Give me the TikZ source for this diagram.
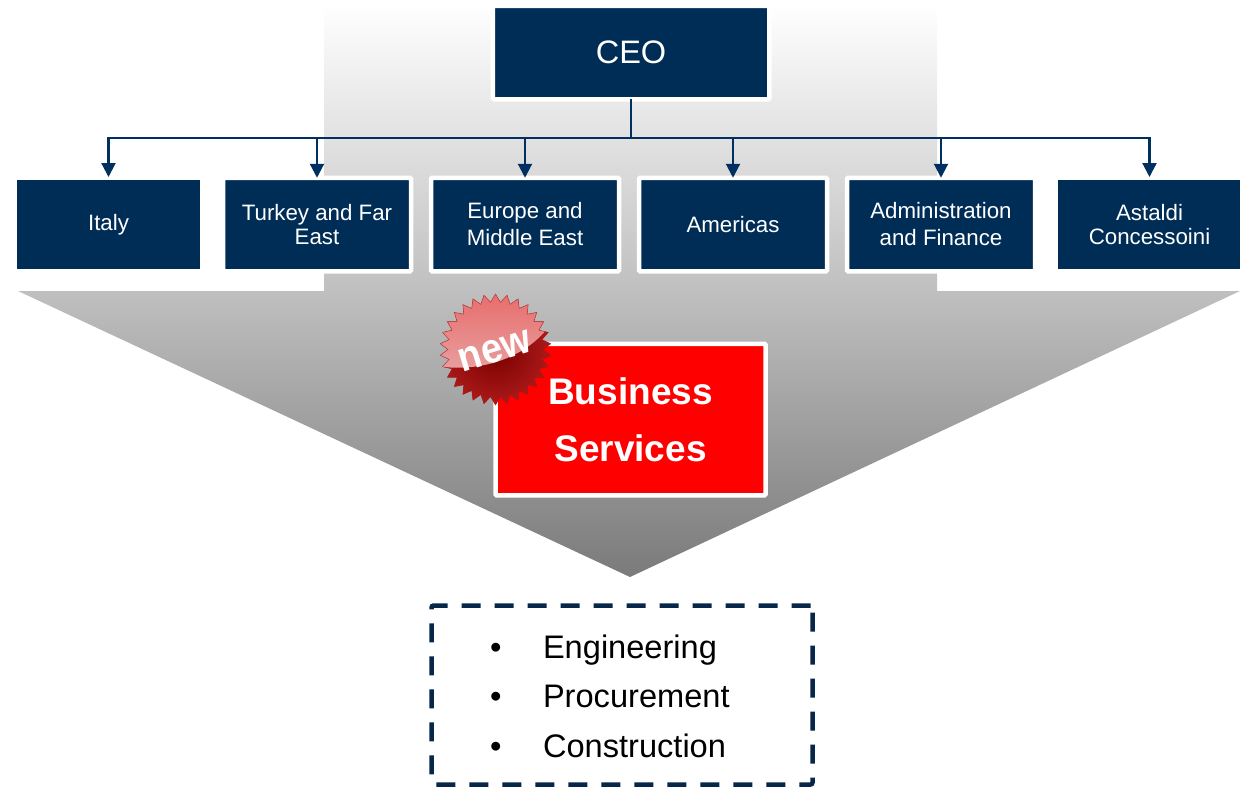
\documentclass[tikz,border=0pt]{standalone}
\usepackage{fontspec}
\setmainfont{Liberation Sans}
\usetikzlibrary{%
        arrows.meta,
        positioning,
        shapes.geometric}
\definecolor{navy}{HTML}{002D56}
\definecolor{dashnavy}{HTML}{06264A}
\definecolor{wire}{HTML}{003060}
\definecolor{badgedark}{HTML}{7A0000}
\definecolor{badgerim}{HTML}{B01C1C}
\definecolor{badgepink}{HTML}{E86A6A}
\definecolor{badgemid}{HTML}{F28484}
\definecolor{badgelight}{HTML}{E8A0A0}
\tikzset{%
    dept/.style={fill=navy, text=white, align=center, inner sep=0, outer sep=0,
        minimum width=183, minimum height=89,
        font=\fontsize{22.3}{24}\selectfont},
    framed/.style={draw=white, line width=4.5, rounded corners=1,
        minimum width=188, minimum height=93.5},
    link/.style={wire, line width=2.2,
        -{Triangle[length=14, width=14]}},
    item/.style={anchor=base west, inner sep=0, outer sep=0,
        font=\fontsize{32.6}{36}\selectfont}
}

\begin{document}
\begin{tikzpicture}[x=1pt, y=-1pt]

    \useasboundingbox (0, 0) rectangle (1240, 787);

    \shade[top color=white, bottom color=black!25] (324, 5) rectangle (937, 291);
    \shade[top color=black!25, bottom color=black!52]
        (18, 291) -- (1240, 291) -- (630, 577) -- cycle;

    \node[dept, framed, minimum width=276.5, minimum height=93.5,
        font=\fontsize{32.5}{36}\selectfont] (ceo) at (631, 52.5) {CEO};

    \node[dept] (italy) at (108.5, 224.5) {Italy};
    \node[dept, framed] (turkey) at (317, 224.5) {Turkey and Far\\East};
    \node[dept, framed] (europe) at (525, 224.5) {Europe and\\[3pt]Middle East};
    \node[dept, framed] (americas) at (733, 224.5) {Americas};
    \node[dept, framed] (admin) at (941, 224.5) {Administration\\[3pt]and Finance};
    \node[dept] (astaldi) at (1149.5, 224.5) {Astaldi\\Concessoini};

    \coordinate (bus) at (631, 138);
    \draw[wire, line width=2.2] (ceo.south) -- (bus);
    \foreach \dept in {turkey, europe, americas, admin}{%
        \draw[link] (bus) -| (\dept.north);
    };
    \draw[link, shorten >=3] (bus) -| (italy.north);
    \draw[link, shorten >=3] (bus) -| (astaldi.north);

    \node[fill=red, draw=white, line width=4.5, rounded corners=1, text=white,
        align=center, inner sep=0, minimum width=270, minimum height=151.5,
        font=\fontsize{37}{57}\selectfont\bfseries] (business) at (630.5, 419.5)
        {Business\\Services};

    % badge coordinates are taken from its centre
    \node[star, star points=30, star point ratio=1.17, minimum size=111, inner sep=0,
        fill=badgedark, draw=badgerim, draw opacity=0.5, line width=0.6,
        path picture={%
            \shade[inner color=badgedark, outer color=badgerim]
                (-60, -30) rectangle (60, 60);
            \shade[top color=badgepink, middle color=badgemid, bottom color=badgelight]
                (-60, -60) -- (60, -60) -- (60, -26) -- (52, -21)
                .. controls (25, 12) and (-20, 22) .. (-55, 17) -- cycle;
        }] (badge) at (495.5, 349.5) {};
    \node[rotate=17, yscale=1.1, transform shape, text=white, inner sep=0,
        font=\fontsize{38}{40}\selectfont\bfseries] (new) at (495, 351) {new};

    \node[draw=dashnavy, line width=4.5, rounded corners=2,
        dash pattern=on 19 off 14, inner sep=0,
        minimum width=381, minimum height=179] (services) at (622, 695) {};

    \foreach \name/\label/\ypos in {engineering/Engineering/658,
        procurement/Procurement/707.5, construction/Construction/757}{%
        \node[item] (\name) at (543, \ypos) {\label};
        \node[item] (\name bullet) at ([xshift=-53] \name.base west) {•};
    };

\end{tikzpicture}
\end{document}
